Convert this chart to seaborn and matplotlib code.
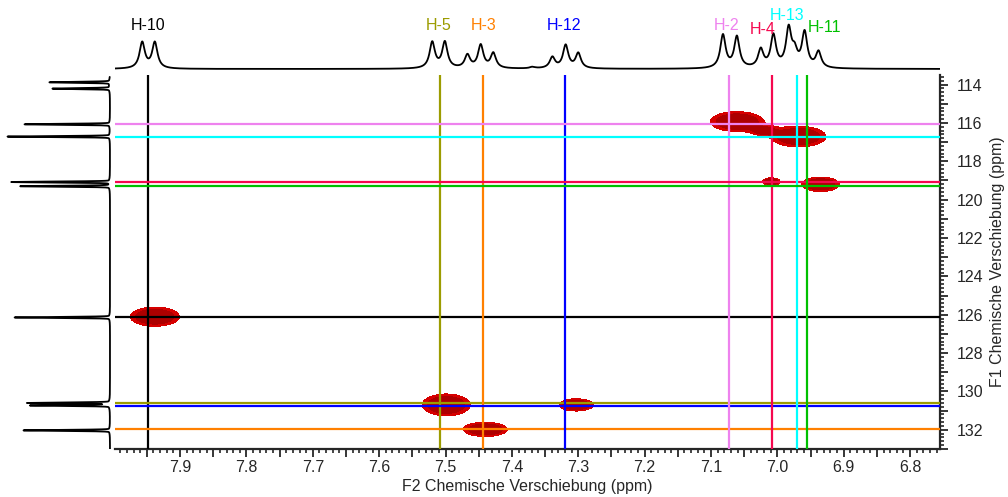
import numpy as np
import matplotlib
matplotlib.use("Agg")
import matplotlib.pyplot as plt
from matplotlib.ticker import MultipleLocator, FuncFormatter
import seaborn as sns

# assignments: 1H shift (F2) and 13C shift (F1) of each H/C pair
labels = ['H-10', 'H-5', 'H-3', 'H-12', 'H-2', 'H-4', 'H-13', 'H-11']
h_shift = [7.948, 7.508, 7.443, 7.320, 7.073, 7.008, 6.971, 6.956]
c_shift = [126.10, 130.62, 131.98, 130.75, 116.07, 119.06, 116.72, 119.30]
colors = ['#000000', '#9c9c00', '#ff8000', '#0000ff', '#ee82ee', '#f5084f', '#00ffff', '#00c000']

# HSQC cross peaks: centre (F2, F1) and half widths
xpk_h = [7.938, 7.499, 7.440, 7.303, 7.061, 7.020, 6.968, 7.009, 6.935]
xpk_c = [126.10, 130.70, 131.98, 130.70, 115.93, 116.42, 116.71, 119.06, 119.20]
xpk_wh = [0.037, 0.036, 0.033, 0.026, 0.040, 0.018, 0.041, 0.013, 0.028]
xpk_wc = [0.50, 0.57, 0.37, 0.32, 0.52, 0.24, 0.54, 0.20, 0.38]
xpk_amp = [1, 1, 1, 1, 1, 0.55, 1, 1, 1]

# 1H projection (top): line positions and heights
top_ppm = [7.957, 7.938, 7.520, 7.501, 7.467, 7.447, 7.428, 7.369, 7.339, 7.319, 7.300,
           7.082, 7.061, 7.025, 7.006, 6.983, 6.974, 6.959, 6.938]
top_int = [26, 26, 26, 26, 13, 23, 15, 1.5, 11, 23, 15,
           33, 31, 18, 32, 38, 14, 35, 16]

# 13C projection (left): line positions and heights
side_ppm = [113.88, 114.21, 116.07, 116.71, 119.08, 119.30, 126.14, 130.60, 130.73, 132.03]
side_int = [59, 56, 84, 101, 97, 88, 94, 81, 78, 85]


def lorentz(grid, pos, amp, hw):
    out = np.zeros_like(grid)
    for p, a in zip(pos, amp):
        out += a * hw**2 / ((grid - p)**2 + hw**2)
    return out


def gauss(grid, pos, amp, sd):
    out = np.zeros_like(grid)
    for p, a in zip(pos, amp):
        out += a * np.exp(-0.5 * ((grid - p) / sd)**2)
    return out


sns.set_style("ticks")
plt.rcParams['font.family'] = ['Liberation Sans', 'DejaVu Sans']
plt.rcParams['font.size'] = 11.5

W, H = 1008, 497
fig = plt.figure(figsize=(W / 100, H / 100), dpi=100)
ax = fig.add_axes([115 / W, 48 / H, 825 / W, 374 / H])
ax_top = fig.add_axes([115 / W, (H - 72) / H, 825 / W, 50 / H], sharex=ax)
ax_side = fig.add_axes([5 / W, 48 / H, 110 / W, 374 / H], sharey=ax)

x_lim = (7.998, 6.755)
y_lim = (133.0, 113.5)

# 2D cross peaks
gx = np.linspace(6.75, 8.0, 1000)
gy = np.linspace(113.0, 133.5, 900)
X, Y = np.meshgrid(gx, gy)
Z = np.zeros_like(X)
for h, c, wh, wc, a in zip(xpk_h, xpk_c, xpk_wh, xpk_wc, xpk_amp):
    Z += a * np.exp(-((X - h) / wh)**2 - ((Y - c) / wc)**2)
ax.contourf(X, Y, Z, levels=[np.exp(-1), 0.55, 1e3], colors=['#d60000', '#ad0000'], zorder=1)

for h, c, col in zip(h_shift, c_shift, colors):
    ax.axvline(h, color=col, lw=1.6, zorder=3)
    ax.axhline(c, color=col, lw=1.6, zorder=3)

ax.set_xlim(*x_lim)
ax.set_ylim(*y_lim)
ax.yaxis.tick_right()
ax.yaxis.set_label_position('right')
sns.despine(ax=ax, left=True, top=True, right=False, bottom=False)
for s in ('bottom', 'right'):
    ax.spines[s].set_linewidth(1.6)

ax.xaxis.set_major_locator(MultipleLocator(0.05))
ax.xaxis.set_minor_locator(MultipleLocator(0.01))
ax.xaxis.set_major_formatter(FuncFormatter(
    lambda v, p: f"{v:.1f}" if abs(v * 10 - round(v * 10)) < 1e-6 else ""))
ax.yaxis.set_major_locator(MultipleLocator(1))
ax.yaxis.set_minor_locator(MultipleLocator(0.2))
ax.yaxis.set_major_formatter(FuncFormatter(
    lambda v, p: f"{v:.0f}" if round(v) % 2 == 0 else ""))
ax.tick_params(which='major', direction='out', length=6, width=1.3, labelsize=11.5, pad=2)
ax.tick_params(which='minor', direction='out', length=3, width=1.2)
ax.tick_params(axis='y', which='both', left=False, right=True, labelleft=False, labelright=True)
ax.tick_params(axis='y', which='major', pad=6)
ax.set_xlabel('F2 Chemische Verschiebung (ppm)', fontsize=11.5, labelpad=3)
ax.set_ylabel('F1 Chemische Verschiebung (ppm)', fontsize=11.5, labelpad=5)

# 1H projection
tg = np.linspace(6.755, 8.0, 4000)
sns.lineplot(x=tg, y=lorentz(tg, top_ppm, top_int, 0.0048), ax=ax_top,
             color='black', lw=1.3, estimator=None)
ax_top.set_ylim(-3, 47)
ax_top.axis('off')

# label offsets for the assignment text above the projection
label_dx = [0.0, 0.002, 0.0, 0.002, 0.003, 0.0135, 0.014, -0.027]
label_y = [44, 44, 44, 44, 44, 39, 53, 41]
for lab, h, col, dx, ly in zip(labels, h_shift, colors, label_dx, label_y):
    ax_top.text(h + dx, ly, lab, color=col, ha='center', va='center',
                fontsize=11.5, clip_on=False)

# 13C projection
sg = np.linspace(113.6, 133.0, 8000)
side = (gauss(sg, side_ppm, side_int, 0.025)
        + lorentz(sg, side_ppm, [1.5] * len(side_ppm), 0.12))
sns.lineplot(x=side, y=sg, ax=ax_side, orient='y', color='black', lw=1.3, estimator=None)
ax_side.set_xlim(105, -5)
ax_side.axis('off')

fig.savefig('out.png', dpi=100)
